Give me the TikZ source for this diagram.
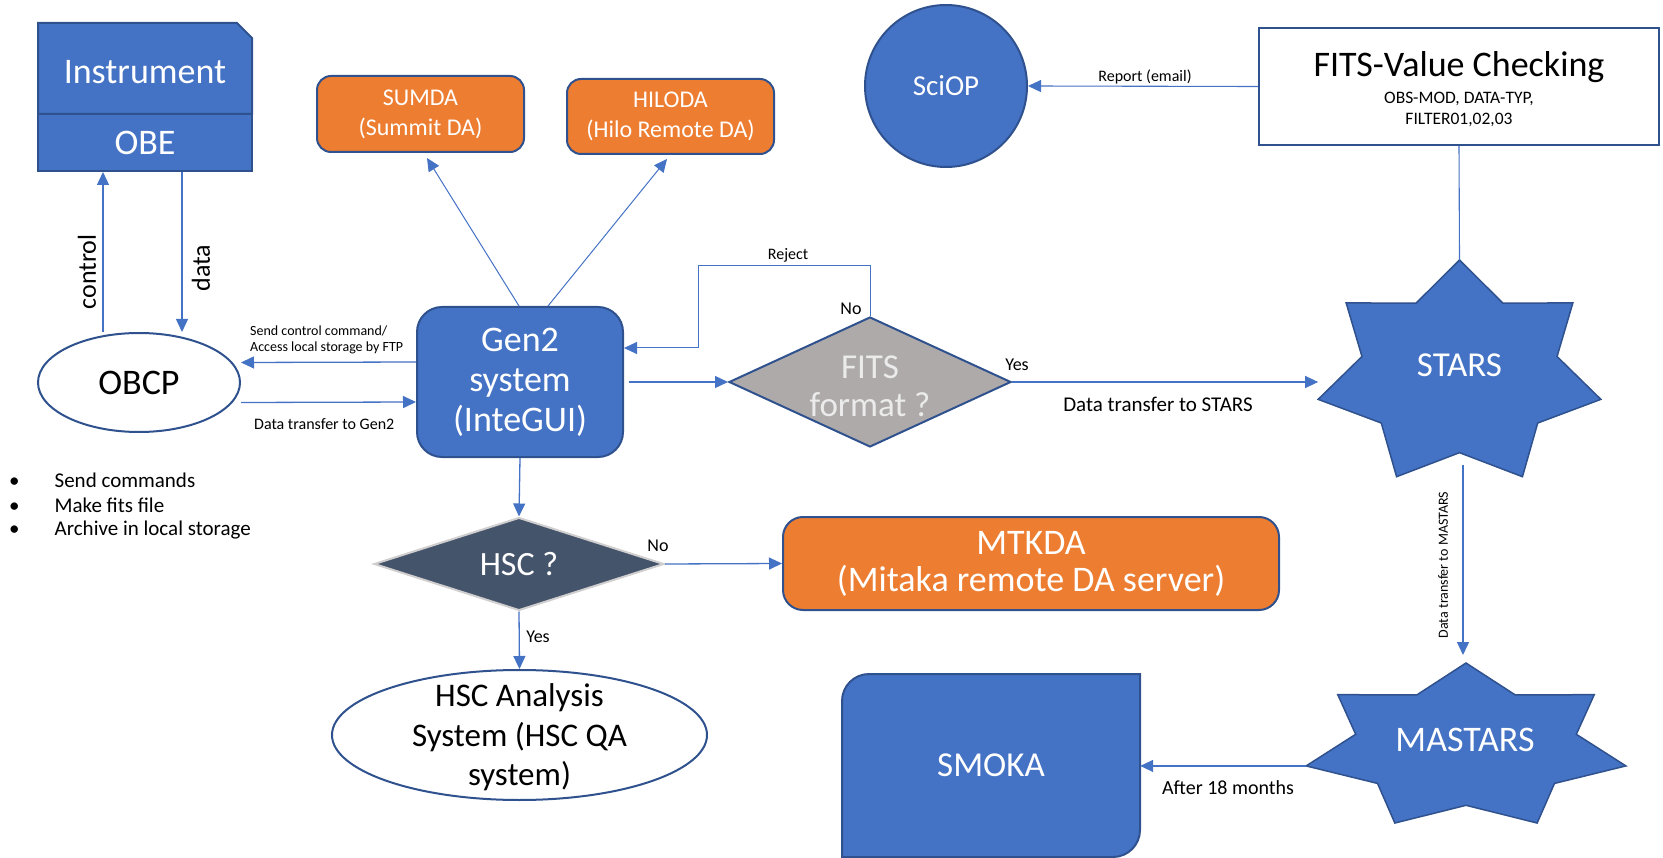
\documentclass[tikz,border=0pt]{standalone}
\usepackage{fontspec}
\setmainfont{Carlito}
\usetikzlibrary{shapes.geometric,arrows.meta,positioning}

\definecolor{blueF}{HTML}{4472C4}
\definecolor{blueD}{HTML}{2F528F}
\definecolor{orangeF}{HTML}{ED7D31}
\definecolor{grayF}{HTML}{AEAAAA}
\definecolor{slateF}{HTML}{44546A}
\definecolor{slateD}{HTML}{D0CECE}
\newcommand{\fsz}[2]{\fontsize{#1}{#2}\selectfont}

\tikzset{
	bluebox/.style={draw=blueD, fill=blueF, line width=2pt, inner sep=0pt, text=white},
	orangebox/.style={draw=blueD, fill=orangeF, line width=2pt, rounded corners=14pt, inner sep=0pt, text=white, align=center},
	starfill/.style={draw=blueD, fill=blueF, line width=1.5pt},
	arr/.style={draw=blueF, line width=1.3pt, -{Triangle[length=13pt,width=12pt]}},
	lbl/.style={inner sep=0pt, font=\fsz{16}{19}},
	yn/.style={inner sep=0pt, font=\fsz{18}{21}},
}

\begin{document}
\begin{tikzpicture}[x=1pt,y=1pt]
		\useasboundingbox (0,0) rectangle (1663,-858);

		% instrument / OBE
		\filldraw[draw=blueD, fill=blueF, line width=2pt] (38,-114) -- (38,-23) -- (237,-23) -- (252,-38) -- (252,-114) -- cycle;
		\node[text=white, font=\fsz{36}{40}] (instr) at (145,-72) {Instrument};
		\node[bluebox, minimum width=214, minimum height=57, font=\fsz{36}{40}] (obe) at (145,-142.5) {OBE};

		\node[ellipse, draw=blueD, fill=white, line width=2pt, minimum width=202, minimum height=99, inner sep=0pt, font=\fsz{36}{40}] (obcp) at (139,-382.5) {OBCP};

		\draw[arr] ([xshift=-36pt]obcp.north) -- ([xshift=-42pt]obe.south);
		\draw[arr] ([xshift=37pt]obe.south) -- ([xshift=43pt]obcp.north);
		\node[rotate=90, font=\fsz{26}{30}] (ctrl) at (87,-272) {control};
		\node[rotate=90, font=\fsz{26}{30}] (dat) at (201,-268) {data};

		\node[anchor=west, inner sep=0pt, font=\fsz{21}{24}] (bul1) at (9,-480) {\textbullet\hspace{35pt}Send commands};
		\node[anchor=west, inner sep=0pt, font=\fsz{21}{24}] (bul2) at (9,-505) {\textbullet\hspace{35pt}Make fits file};
		\node[anchor=west, inner sep=0pt, font=\fsz{21}{24}] (bul3) at (9,-530) {\textbullet\hspace{35pt}Archive in local storage};

		% Gen2 and DA servers
		\node[bluebox, rounded corners=25pt, minimum width=206, minimum height=150, align=center, font=\fsz{36}{40}] (gen2) at (520,-382) {Gen2\\system\\(InteGUI)};
		\node[orangebox, minimum width=207, minimum height=76, font=\fsz{24}{30}] (sumda) at (420.5,-114) {SUMDA\\(Summit DA)};
		\node[orangebox, minimum width=207, minimum height=75, font=\fsz{24}{30}] (hiloda) at (670.5,-116.5) {HILODA\\(Hilo Remote DA)};

		\draw[arr, line width=1pt] ([xshift=-1pt]gen2.north) -- ([xshift=6.5pt,yshift=-5pt]sumda.south);
		\draw[arr, line width=1pt] ([xshift=28pt]gen2.north) -- ([xshift=-3.5pt,yshift=-4pt]hiloda.south);

		\draw[arr] ([yshift=20pt]gen2.west) -- ([yshift=20pt]obcp.east);
		\draw[arr] ([yshift=-20pt]obcp.east) -- ([yshift=-20pt]gen2.west);
		\node[lbl, anchor=west, align=left, font=\fsz{14}{16}] (cmdlbl) at (250,-340) {Send control command/\\Access local storage by FTP};
		\node[lbl, anchor=west] (gen2lbl) at (254,-424) {Data transfer to Gen2};

		% FITS format check
		\node[diamond, aspect=2.17, minimum width=282, minimum height=130, inner sep=0pt, draw=blueD, fill=grayF, line width=2pt] (fits) at (870,-382) {};
		\node[text=white!92!black, align=center, font=\fsz{35}{38}] (fitstxt) at (870,-386) {FITS\\format ?};
		\coordinate (rejtop) at (698,-266);
		\draw[arr, line width=1pt] (fits.north) |- (rejtop) |- ([yshift=34pt]gen2.east);
		\node[lbl] (rej) at (788,-255) {Reject};
		\node[yn] (fitsno) at (851,-309) {No};
		\node[yn] (fitsyes) at (1017,-365) {Yes};
		\draw[arr] ([xshift=5pt]gen2.east) -- (fits.west);

		% HSC branch
		\node[diamond, aspect=3.1, minimum width=290, minimum height=93, inner sep=0pt, draw=slateD, fill=slateF, line width=2pt, text=white, font=\fsz{34}{40}] (hsc) at (519,-564) {HSC ?};
		\node[orangebox, rounded corners=20pt, minimum width=496, minimum height=93, font=\fsz{36}{37}] (mtkda) at (1031,-563.5) {MTKDA\\(Mitaka remote DA server)};
		\node[ellipse, draw=blueD, fill=white, line width=2pt, minimum width=375, minimum height=130] (hscqa) at (519.5,-735) {};
		\node[align=center, font=\fsz{33}{39.5}] (hscqatxt) at (519.5,-737.5) {HSC Analysis\\System (HSC QA\\system)};

		\draw[arr] (gen2.south) -- (hsc.north);
		\draw[arr] (hsc.east) -- (mtkda.west);
		\draw[arr] (hsc.south) -- (hscqa.north);
		\node[yn] (hscno) at (658,-546) {No};
		\node[yn] (hscyes) at (538,-637) {Yes};

		% SciOP and FITS-value checking
		\node[circle, draw=blueD, fill=blueF, line width=2pt, minimum size=162, inner sep=0pt, text=white, font=\fsz{29}{36}] (sciop) at (946,-86) {SciOP};
		\node[rectangle, draw=blueD, fill=white, line width=2pt, minimum width=400, minimum height=117] (fitsval) at (1459,-86.5) {};
		\node[font=\fsz{36}{40}] (fvtitle) at (1459,-67) {FITS-Value Checking};
		\node[align=center, font=\fsz{17.5}{21}] (fvkeys) at (1459,-109.5) {OBS-MOD, DATA-TYP,\\FILTER01,02,03};
		\draw[arr, line width=1.1pt] (fitsval.west) -- (sciop.east);
		\node[lbl] (replbl) at (1145,-77) {Report (email)};

		% STARS
		\begin{scope}[shift={(1459.5,-374)}, xscale=145, yscale=114]
			\filldraw[starfill] (90:1) \foreach \k in {0,...,6} {-- ({90+(\k+0.5)*360/7}:0.69) -- ({90+(\k+1)*360/7}:1)} -- cycle;
			\coordinate (starsN) at (90:1);
			\coordinate (starsW) at (192.857:1);
			\coordinate (starsS) at (270:0.69);
		\end{scope}
		\node[text=white, font=\fsz{35}{40}] (stars) at (1459.5,-365) {STARS};
		\draw[draw=blueF, line width=1.1pt] (fitsval.south) -- (starsN);
		\draw[arr] (fits.east) -- (fits.east -| starsW);
		\node[font=\fsz{21}{24}] (starslbl) at (1158,-404) {Data transfer to STARS};

		% MASTARS
		\begin{scope}[shift={(1466,-747.2)}, xscale=164, yscale=84.2]
			\filldraw[starfill] (90:1) \foreach \k in {0,...,6} {-- ({90+(\k+0.5)*360/7}:0.69) -- ({90+(\k+1)*360/7}:1)} -- cycle;
			\coordinate (mastarsN) at (90:1);
			\coordinate (mastarsW) at (192.857:1);
		\end{scope}
		\node[text=white, font=\fsz{36}{40}] (mastars) at (1465,-740) {MASTARS};
		\draw[arr] ([xshift=3.5pt,yshift=-12pt]starsS) -- ([xshift=-3pt,yshift=8pt]mastarsN);
		\node[rotate=90, font=\fsz{14}{16}] (mastarslbl) at (1443,-565) {Data transfer to MASTARS};

		% SMOKA
		\filldraw[draw=blueD, fill=blueF, line width=2pt] (1140,-674) -- (869,-674) arc[start angle=90, end angle=180, radius=27] -- (842,-857) -- (1113,-857) arc[start angle=270, end angle=360, radius=27] -- cycle;
		\node[minimum width=298, minimum height=183, inner sep=0pt, text=white, font=\fsz{35}{40}] (smoka) at (991,-765.5) {SMOKA};
		\draw[arr] (mastarsW) -- (mastarsW -| smoka.east);
		\node[font=\fsz{20}{24}] (afterlbl) at (1228,-788) {After 18 months};
	\end{tikzpicture}
\end{document}
